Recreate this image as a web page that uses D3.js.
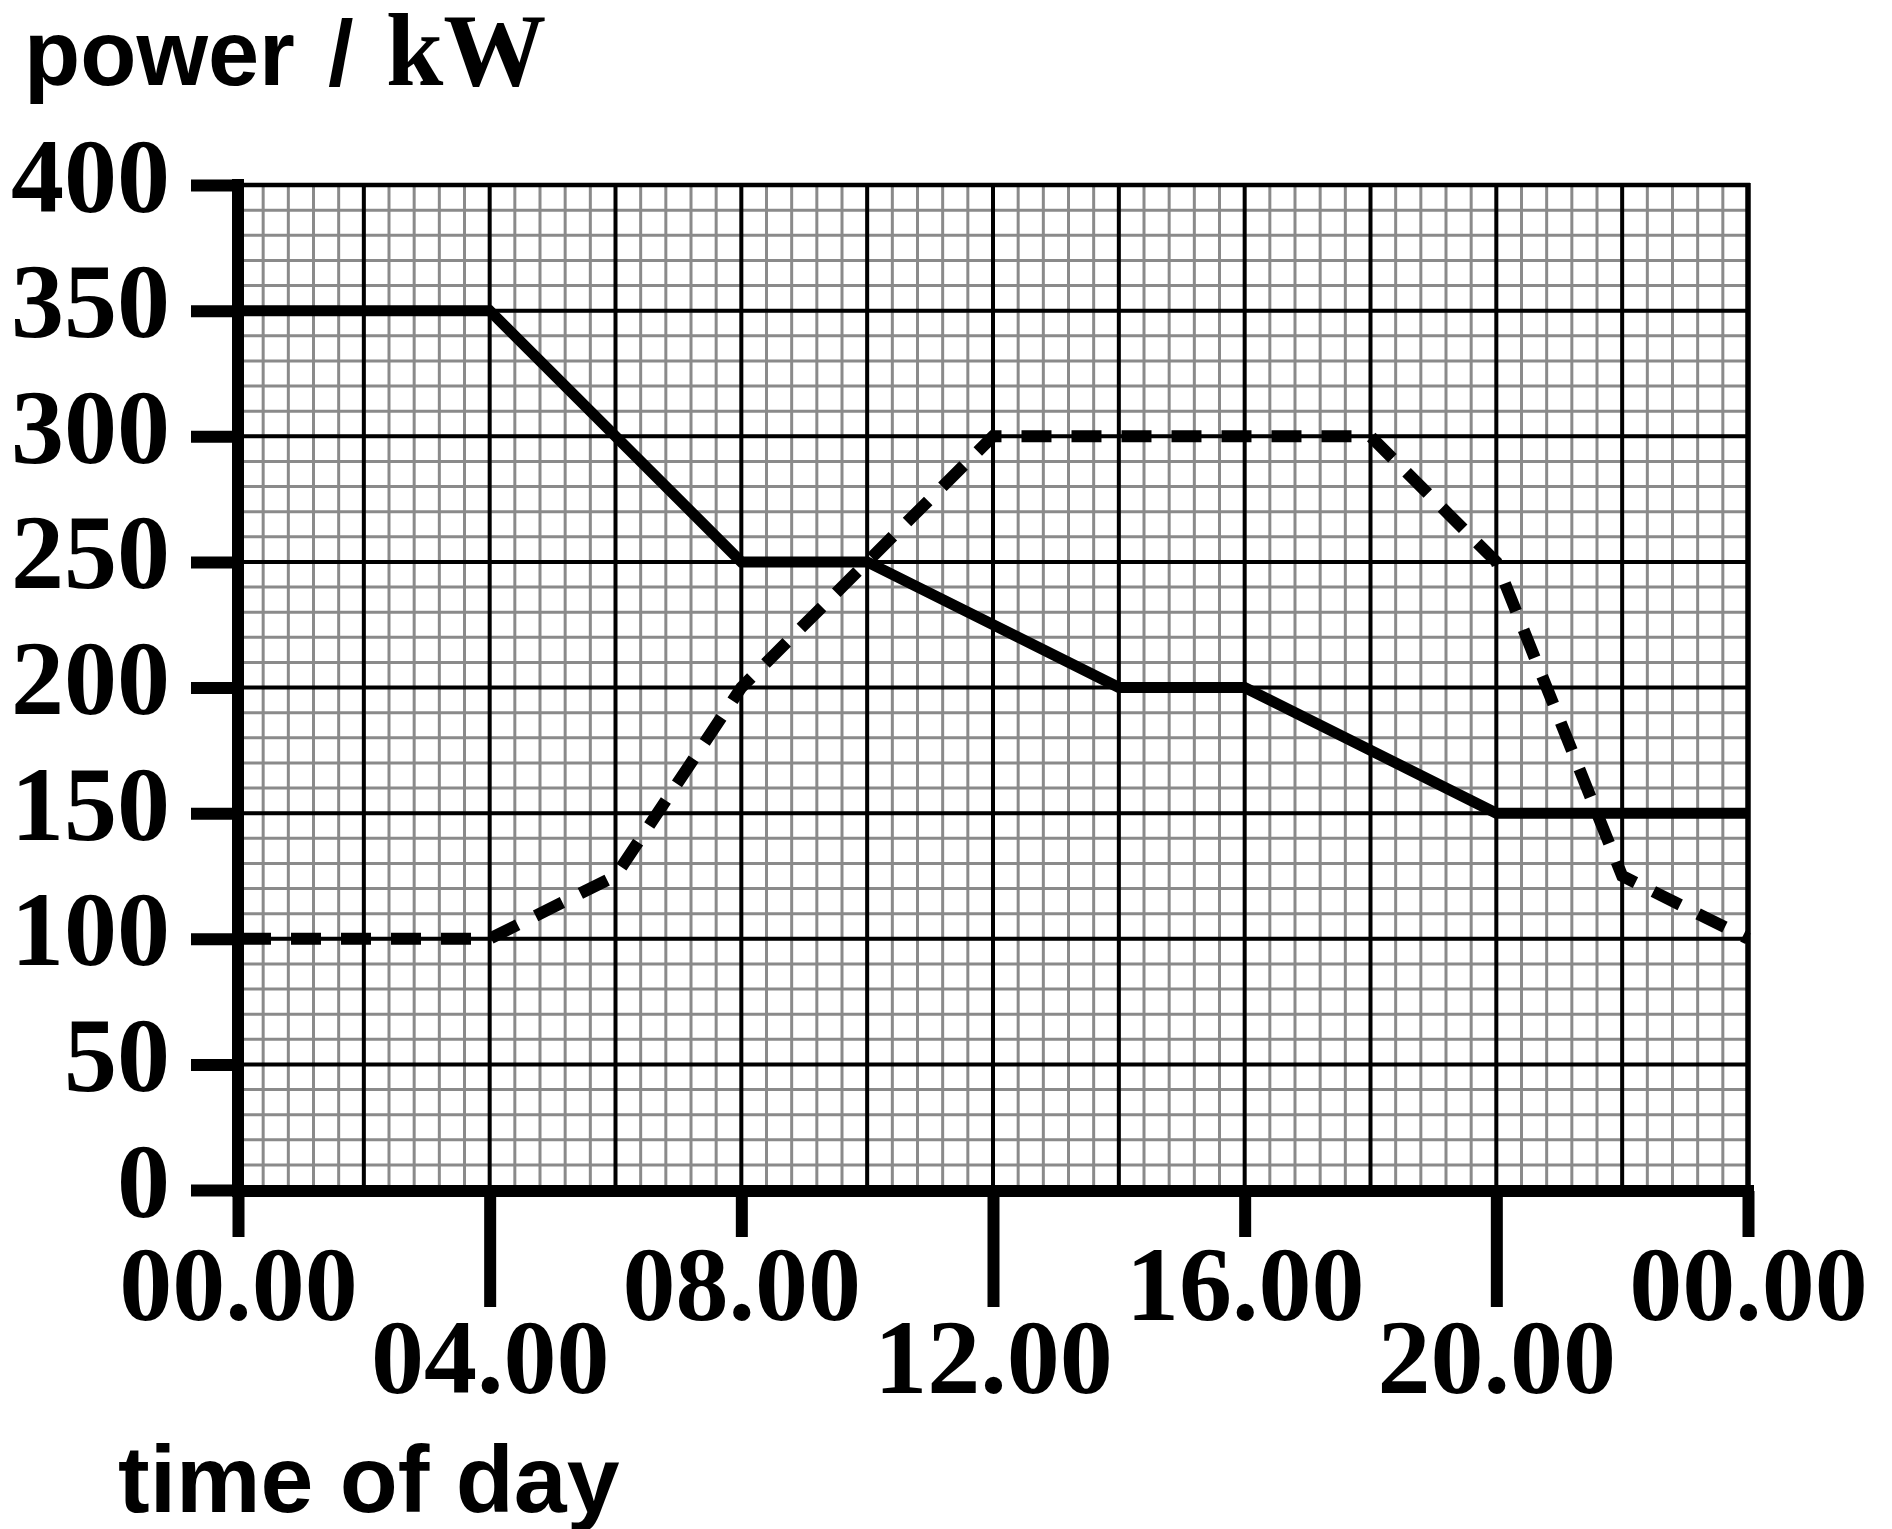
<!DOCTYPE html>
<html>
<head>
<meta charset="utf-8">
<script src="https://cdn.jsdelivr.net/npm/d3@7"></script>
<style>
  body { margin: 0; background: #fff; }
  svg { display: block; }
</style>
</head>
<body>
<div id="chart"></div>
<script>
// time of day in hours, power in kW
var xTickHours = [0, 4, 8, 12, 16, 20, 24];
var xTickLabels = ["00.00", "04.00", "08.00", "12.00", "16.00", "20.00", "00.00"];
var yTicks = [0, 50, 100, 150, 200, 250, 300, 350, 400];

var solidHours = [0, 4, 8, 10, 14, 16, 20, 24];
var solidKW = [350, 350, 250, 250, 200, 200, 150, 150];

var dashedHours = [0, 4, 6, 8, 12, 18, 20, 22, 24];
var dashedKW = [100, 100, 125, 200, 300, 300, 250, 125, 100];

var W = 1892, H = 1529;
// plot box (window.top is reserved, so keep these prefixed)
var plotLeft = 238, plotRight = 1748, plotTop = 185, plotBottom = 1190;

var svg = d3.select('#chart').append('svg')
    .attr('width', W)
    .attr('height', H);
svg.append('rect').attr('width', W).attr('height', H).attr('fill', '#fff');

var x = d3.scaleLinear().domain([0, 24]).range([plotLeft, plotRight]);
var y = d3.scaleLinear().domain([0, 400]).range([plotBottom, plotTop]);

var serif = '"Liberation Serif", "Times New Roman", serif';
var sans = '"Liberation Sans", Arial, sans-serif';

// fine grid
var grid = svg.append('g').attr('class', 'grid');
var minorX = d3.range(0, 24.001, 0.4);
var minorY = d3.range(0, 400.001, 10);
grid.selectAll('line.mx').data(minorX).enter().append('line')
    .attr('class', 'mx')
    .attr('x1', function (d) { return x(d); })
    .attr('x2', function (d) { return x(d); })
    .attr('y1', plotTop).attr('y2', plotBottom)
    .attr('stroke', '#8a8a8a').attr('stroke-width', 3);
grid.selectAll('line.my').data(minorY).enter().append('line')
    .attr('class', 'my')
    .attr('y1', function (d) { return y(d); })
    .attr('y2', function (d) { return y(d); })
    .attr('x1', plotLeft).attr('x2', plotRight)
    .attr('stroke', '#8a8a8a').attr('stroke-width', 3);

// major grid
var majorX = d3.range(0, 24.001, 2);
grid.selectAll('line.Mx').data(majorX).enter().append('line')
    .attr('class', 'Mx')
    .attr('x1', function (d) { return x(d); })
    .attr('x2', function (d) { return x(d); })
    .attr('y1', plotTop).attr('y2', plotBottom)
    .attr('stroke', '#000').attr('stroke-width', 4);
grid.selectAll('line.My').data(yTicks).enter().append('line')
    .attr('class', 'My')
    .attr('y1', function (d) { return y(d); })
    .attr('y2', function (d) { return y(d); })
    .attr('x1', plotLeft).attr('x2', plotRight)
    .attr('stroke', '#000').attr('stroke-width', 4);

// frame
svg.append('line').attr('x1', plotLeft).attr('x2', plotRight + 2).attr('y1', y(400)).attr('y2', y(400))
    .attr('stroke', '#000').attr('stroke-width', 4.5);
svg.append('line').attr('x1', x(24)).attr('x2', x(24)).attr('y1', plotTop - 2).attr('y2', plotBottom)
    .attr('stroke', '#000').attr('stroke-width', 5.5);

// data lines
var line = d3.line()
    .x(function (d) { return x(d[0]); })
    .y(function (d) { return y(d[1]); });

svg.append('path')
    .datum(dashedHours.map(function (h, i) { return [h, dashedKW[i]]; }))
    .attr('d', line)
    .attr('fill', 'none')
    .attr('stroke', '#000')
    .attr('stroke-width', 12)
    .attr('stroke-dasharray', '30,20')
    .attr('stroke-dashoffset', -3);

svg.append('path')
    .datum(solidHours.map(function (h, i) { return [h, solidKW[i]]; }))
    .attr('d', line)
    .attr('fill', 'none')
    .attr('stroke', '#000')
    .attr('stroke-width', 11)
    .attr('stroke-linejoin', 'miter');

// y axis
var yAxis = svg.append('g')
    .attr('transform', 'translate(' + plotLeft + ',0)')
    .call(d3.axisLeft(y).tickValues(yTicks).tickSize(47).tickPadding(0).tickFormat(d3.format('d')));
yAxis.select('.domain').remove();
yAxis.selectAll('.tick line').attr('stroke', '#000').attr('stroke-width', 12).attr('x2', -47).attr('x1', 0);
yAxis.selectAll('.tick text')
    .attr('x', -68)
    .attr('dy', 26)
    .attr('fill', '#000')
    .style('font-family', serif)
    .style('font-weight', 'bold')
    .style('font-size', '106px')
    .style('text-anchor', 'end');

// x axis
var longTick = function (d, i) { return i % 2 === 1; };
var xAxis = svg.append('g')
    .attr('transform', 'translate(0,' + (plotBottom + 1) + ')')
    .call(d3.axisBottom(x).tickValues(xTickHours).tickSize(0)
        .tickFormat(function (d, i) { return xTickLabels[i]; }));
xAxis.select('.domain').remove();
xAxis.selectAll('.tick line')
    .attr('stroke', '#000').attr('stroke-width', 12)
    .attr('y1', 0)
    .attr('y2', function (d, i) { return longTick(d, i) ? 116 : 46; });
xAxis.selectAll('.tick text')
    .attr('y', function (d, i) { return longTick(d, i) ? 202 : 129; })
    .attr('dy', 0)
    .attr('fill', '#000')
    .style('font-family', serif)
    .style('font-weight', 'bold')
    .style('font-size', '106px')
    .style('text-anchor', 'middle');

// main axis lines
svg.append('line').attr('x1', plotLeft).attr('x2', plotLeft).attr('y1', plotTop - 6).attr('y2', plotBottom + 7)
    .attr('stroke', '#000').attr('stroke-width', 12);
svg.append('line').attr('x1', plotLeft - 6).attr('x2', plotRight + 6).attr('y1', plotBottom + 1).attr('y2', plotBottom + 1)
    .attr('stroke', '#000').attr('stroke-width', 12);

// titles
var yLabel = svg.append('text')
    .attr('x', 24)
    .attr('y', 85)
    .attr('fill', '#000');
yLabel.append('tspan')
    .style('font-family', sans).style('font-weight', 'bold').style('font-size', '92px')
    .text('power');
yLabel.append('tspan')
    .attr('x', 328)
    .style('font-family', sans).style('font-weight', 'bold').style('font-size', '92px')
    .text('/');
yLabel.append('tspan')
    .attr('x', 386)
    .style('font-family', serif).style('font-weight', 'bold').style('font-size', '103px')
    .text('kW');

svg.append('text')
    .attr('x', 118)
    .attr('y', 1512)
    .attr('fill', '#000')
    .style('font-family', sans).style('font-weight', 'bold').style('font-size', '95px')
    .text('time of day');
</script>
</body>
</html>
